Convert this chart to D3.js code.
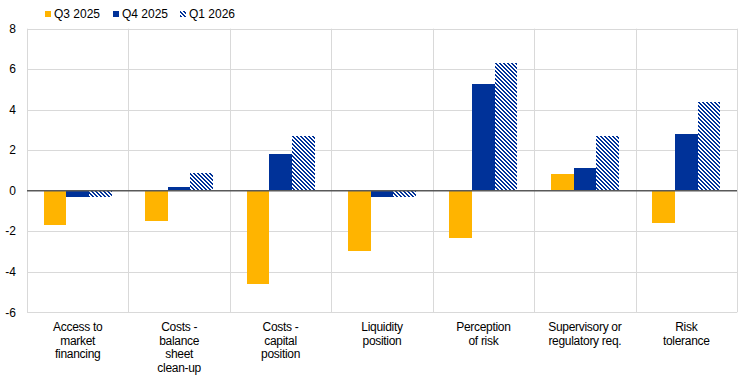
<!DOCTYPE html>
<html><head><meta charset="utf-8">
<script src="https://cdn.jsdelivr.net/npm/d3@7"></script>
<style>
body{margin:0;background:#fff;}
svg{display:block;font-family:"Liberation Sans",Arial,sans-serif;}
</style></head>
<body><svg id="c" width="741" height="380"></svg>
<script>
const categories = [
  ["Access to","market","financing"],
  ["Costs -","balance","sheet","clean-up"],
  ["Costs -","capital","position"],
  ["Liquidity","position"],
  ["Perception","of risk"],
  ["Supervisory or","regulatory req."],
  ["Risk","tolerance"]
];
const seriesNames = ["Q3 2025","Q4 2025","Q1 2026"];
const q3_2025 = [-1.68,-1.49,-4.59,-2.95,-2.31,0.84,-1.57];
const q4_2025 = [-0.33,0.21,1.80,-0.33,5.26,1.10,2.82];
const q1_2026 = [-0.32,0.89,2.69,-0.32,6.29,2.72,4.37];
const yTicks = [-6,-4,-2,0,2,4,6,8];

const series = [q3_2025,q4_2025,q1_2026];
const colors = ["#FFB400","#003299","url(#hatch)"];

const svg = d3.select("#c");
const defs = svg.append("defs");
const pat = defs.append("pattern").attr("id","hatch").attr("patternUnits","userSpaceOnUse")
  .attr("width",4).attr("height",4);
pat.append("rect").attr("width",4).attr("height",4).attr("fill","#fff");
[[0,0],[1,0],[1,1],[2,1],[2,2],[3,2],[3,3],[0,3]].forEach(([px,py])=>{
  pat.append("rect").attr("x",px).attr("y",py).attr("width",1).attr("height",1)
    .attr("fill","#003299").attr("shape-rendering","crispEdges");
});

const L=27, R=737, T=28.7, B=312.3;
const y = d3.scaleLinear().domain([-6,8]).range([B,T]);
const idx = categories.map((d,i)=>i);
const x0 = d3.scaleBand().domain(idx).range([L,R]).padding(0);
const bw = x0.bandwidth();
const x1 = d3.scaleBand().domain([0,1,2]).range([bw*0.165,bw*0.835]).padding(0);

// horizontal grid
svg.append("g").selectAll("line").data(yTicks.filter(t=>t!==0)).join("line")
  .attr("x1",L).attr("x2",R).attr("y1",d=>Math.round(y(d))+0.5).attr("y2",d=>Math.round(y(d))+0.5)
  .attr("stroke","#d9d9d9").attr("stroke-width",1);
// vertical grid at category boundaries
const bounds = idx.map(i=>x0(i)).concat([R]);
svg.append("g").selectAll("line").data(bounds).join("line")
  .attr("x1",d=>Math.round(d)+0.5).attr("x2",d=>Math.round(d)+0.5)
  .attr("y1",T).attr("y2",B)
  .attr("stroke","#d9d9d9").attr("stroke-width",1);

// bars
const g = svg.append("g").attr("shape-rendering","crispEdges");
series.forEach((vals,s)=>{
  g.append("g").selectAll("rect").data(vals).join("rect")
    .attr("x",(d,i)=>x0(i)+x1(s))
    .attr("width",x1.bandwidth())
    .attr("y",d=>y(Math.max(0,d)))
    .attr("height",d=>Math.abs(y(d)-y(0)))
    .attr("fill",colors[s]);
});

// zero line
svg.append("line").attr("x1",L).attr("x2",R).attr("y1",y(0)).attr("y2",y(0))
  .attr("stroke","#595959").attr("stroke-width",1.3);

// y tick labels
svg.append("g").selectAll("text").data(yTicks).join("text")
  .attr("x",16).attr("y",d=>y(d)).attr("dy","0.35em").attr("text-anchor","end")
  .attr("font-size",12).attr("fill","#000").text(d=>d);

// x labels
const xl = svg.append("g").selectAll("text").data(categories).join("text")
  .attr("text-anchor","middle").attr("font-size",12)
  .attr("font-family","'Liberation Sans Narrow','Liberation Sans',Arial,sans-serif")
  .attr("letter-spacing","-0.3").attr("fill","#000")
  .attr("transform",(d,i)=>`translate(${x0(i)+bw/2},331)`);
xl.selectAll("tspan").data(d=>d).join("tspan").attr("x",0).attr("dy",(d,j)=>j===0?0:13.7).text(d=>d);

// legend
const legX = [45,113,180];
const lg = svg.append("g");
seriesNames.forEach((n,s)=>{
  lg.append("rect").attr("x",legX[s]).attr("y",11).attr("width",6).attr("height",6).attr("fill",colors[s]);
  lg.append("text").attr("x",legX[s]+9).attr("y",18).attr("font-size",12).attr("fill","#000").text(n);
});
</script></body></html>
